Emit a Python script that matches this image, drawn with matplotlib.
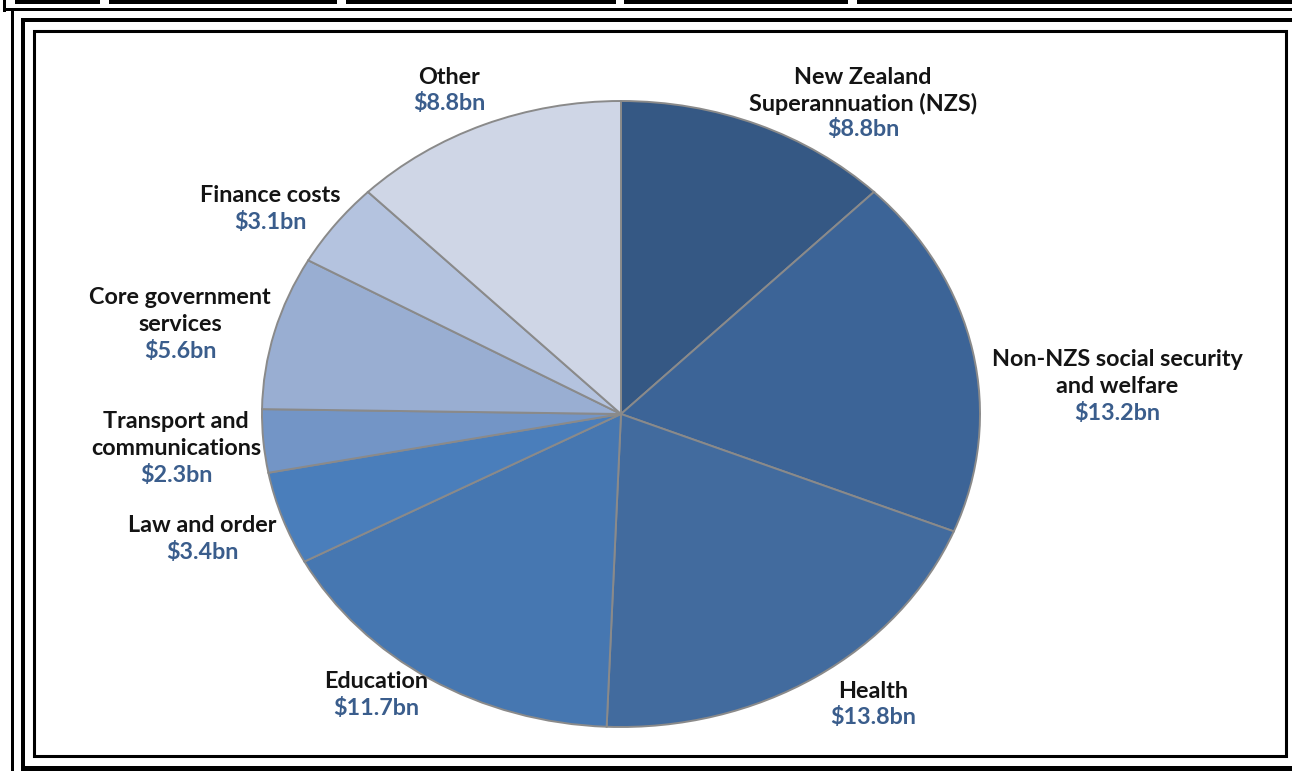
import matplotlib
matplotlib.use("Agg")
import matplotlib.pyplot as plt
from matplotlib.patches import Rectangle

# government expenses by functional category, $ billion
categories = ["New Zealand\nSuperannuation (NZS)", "Non-NZS social security\nand welfare",
              "Health", "Education", "Law and order", "Transport and\ncommunications",
              "Core government\nservices", "Finance costs", "Other"]
values = [8.8, 13.2, 13.8, 11.7, 3.4, 2.3, 5.6, 3.1, 8.8]
colors = ["#355884", "#3c6497", "#426b9e", "#4677b1", "#4a7ebb",
          "#7395c6", "#99aed2", "#b4c3df", "#cfd6e6"]

# label anchors in pixels: centre x, y of first line
label_pos = [(863, 77), (1117, 360), (873, 691), (376, 682), (202, 526),
             (176, 422), (180, 298), (270, 196), (449, 77)]

W, H = 1292, 771
fig = plt.figure(figsize=(W / 100, H / 100), dpi=100)
fig.patch.set_facecolor("white")

# pie is an ellipse: centre (621, 414), radii 359 x 313 px
cx, cy, rx, ry = 621, 414, 359, 313
ax = fig.add_axes([(cx - rx) / W, (H - cy - ry) / H, 2 * rx / W, 2 * ry / H])
wedges, _ = ax.pie(values, colors=colors, startangle=90, counterclock=False,
                   wedgeprops=dict(edgecolor="#8a8a8a", linewidth=1.4))
for w in wedges:
    w.set_clip_on(False)
ax.set_aspect("auto")
ax.set_xlim(-1, 1)
ax.set_ylim(-1, 1)
ax.axis("off")

# overlay in pixel coordinates for frames and labels
bg = fig.add_axes([0, 0, 1, 1])
bg.set_xlim(0, W)
bg.set_ylim(H, 0)
bg.axis("off")
bg.patch.set_visible(False)
bg.set_zorder(2)

def bar(x0, y0, x1, y1):
    bg.add_patch(Rectangle((x0, y0), x1 - x0, y1 - y0, color="black", lw=0))

# segmented strip along the top
for x0, x1 in [(15, 100), (109, 337), (346, 616), (624, 848), (857, W)]:
    bar(x0, 0, x1, 3.5)
bar(3, 0, 6, 12)
bar(3, 8, W, 11)
bar(11, 8, 13.5, H)
# heavy frame
bar(21, 18, W, 22)
bar(21, 18, 25, H)
bar(21, 766, W, H)
# inner thin frame
bg.add_patch(Rectangle((34, 31), 1252, 725, fill=False, ec="black", lw=2.2))

font = dict(family=["Lato", "DejaVu Sans"], fontweight="bold", fontsize=16.8)
step = 26.5
for name, v, (x, y) in zip(categories, values, label_pos):
    lines = name.split("\n")
    for i, ln in enumerate(lines):
        bg.text(x, y + i * step, ln, ha="center", va="center", color="#141414", **font)
    bg.text(x, y + len(lines) * step, "\\$%.1fbn" % v, ha="center", va="center",
            color="#3a5d8c", **font)

fig.savefig("out.png", dpi=100)
